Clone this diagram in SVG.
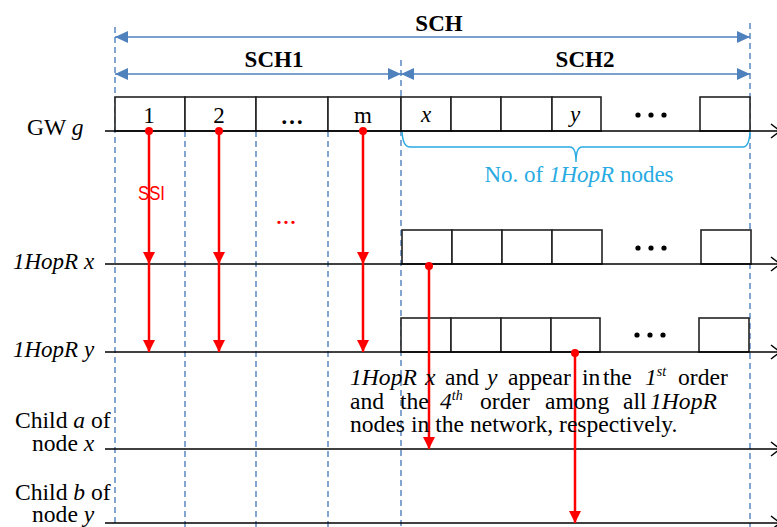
<svg xmlns="http://www.w3.org/2000/svg" width="777" height="527" viewBox="0 0 777 527">
  <style>
    .t { font-family: "Liberation Serif", "Times New Roman", serif; font-size: 23px; fill: #000; }
    .n { font-size: 23.6px; }
    .b { font-weight: bold; }
    .i { font-style: italic; }
    .grid { stroke: #4f81bd; stroke-width: 1.4; stroke-dasharray: 6 4; fill: none; }
    .span { stroke: #4f81bd; stroke-width: 1.6; fill: none; marker-start: url(#blueHead); marker-end: url(#blueHead); }
    .slot { fill: #fff; stroke: #222; stroke-width: 1.6; }
    .axis { stroke: #000; stroke-width: 1.6; fill: none; marker-end: url(#openHead); }
    .sig { stroke: #ff0000; stroke-width: 2.5; fill: none; marker-end: url(#redHead); }
    .dot { fill: #ff0000; }
    .ell { fill: #000; }
    .cyan { fill: #29abe2; }
  </style>
  <defs>
    <marker id="blueHead" markerUnits="userSpaceOnUse" markerWidth="14" markerHeight="12" refX="13" refY="6" orient="auto-start-reverse">
      <path d="M0,0 L13,6 L0,12 Z" fill="#4f81bd"/>
    </marker>
    <marker id="redHead" markerUnits="userSpaceOnUse" markerWidth="13" markerHeight="12" refX="12" refY="6" orient="auto">
      <path d="M0,0 L12,6 L0,12 Z" fill="#ff0000"/>
    </marker>
    <marker id="openHead" markerUnits="userSpaceOnUse" markerWidth="12" markerHeight="18" refX="10" refY="9" orient="auto">
      <path d="M1,2 L10,9 L1,16" fill="none" stroke="#000" stroke-width="1.5"/>
    </marker>
  </defs>

  <!-- slot boundaries -->
  <g id="grid">
    <line class="grid" x1="115" y1="27" x2="115" y2="527"/>
    <line class="grid" x1="185" y1="131" x2="185" y2="527"/>
    <line class="grid" x1="256" y1="131" x2="256" y2="527"/>
    <line class="grid" x1="328" y1="131" x2="328" y2="527"/>
    <line class="grid" x1="401" y1="60" x2="401" y2="527"/>
    <line class="grid" x1="750" y1="23" x2="750" y2="527"/>
  </g>

  <!-- channel spans -->
  <g id="spans">
    <line class="span" x1="115" y1="37" x2="750" y2="37"/>
    <text class="t b" x="439" y="31" text-anchor="middle">SCH</text>
    <line class="span" x1="115" y1="74" x2="401" y2="74"/>
    <text class="t b" x="274" y="67" text-anchor="middle">SCH1</text>
    <line class="span" x1="401" y1="74" x2="750" y2="74"/>
    <text class="t b" x="585" y="67" text-anchor="middle">SCH2</text>
  </g>

  <!-- gateway timeline -->
  <g id="gw">
    <rect class="slot" x="115" y="97" width="70" height="34"/>
    <rect class="slot" x="185" y="97" width="71" height="34"/>
    <rect class="slot" x="256" y="97" width="72" height="34"/>
    <rect class="slot" x="328" y="97" width="73" height="34"/>
    <rect class="slot" x="401" y="97" width="50" height="34"/>
    <rect class="slot" x="451" y="97" width="50" height="34"/>
    <rect class="slot" x="501" y="97" width="51" height="34"/>
    <rect class="slot" x="552" y="97" width="49" height="34"/>
    <rect class="slot" x="700" y="97" width="50" height="34"/>
    <text class="t" x="149" y="123" text-anchor="middle">1</text>
    <text class="t" x="219" y="123" text-anchor="middle">2</text>
    <text class="t b" x="292" y="124" text-anchor="middle" font-size="21">…</text>
    <text class="t" x="363" y="123" text-anchor="middle">m</text>
    <text class="t i" x="426" y="122" text-anchor="middle">x</text>
    <text class="t i" x="575" y="122" text-anchor="middle">y</text>
    <circle class="ell" cx="638" cy="115" r="2.6"/>
    <circle class="ell" cx="651" cy="115" r="2.6"/>
    <circle class="ell" cx="664" cy="115" r="2.6"/>
    <line class="axis" x1="105" y1="131" x2="780" y2="131"/>
    <text class="t n" x="27" y="135">GW <tspan class="i">g</tspan></text>
  </g>

  <!-- 1HopR count brace -->
  <g id="brace">
    <path d="M402,132 Q403,147 410,147 H570 Q576,147 576,162 Q576,147 582,147 H743 Q749,147 750,132" fill="none" stroke="#29abe2" stroke-width="1.5"/>
    <text class="t cyan" x="579" y="182" text-anchor="middle" font-size="23.8">No. of <tspan class="i">1HopR</tspan> nodes</text>
  </g>

  <!-- 1HopR x timeline -->
  <g id="hop-x">
    <rect class="slot" x="402" y="230" width="50" height="34"/>
    <rect class="slot" x="452" y="230" width="50" height="34"/>
    <rect class="slot" x="502" y="230" width="50" height="34"/>
    <rect class="slot" x="552" y="230" width="50" height="34"/>
    <rect class="slot" x="701" y="230" width="50" height="34"/>
    <circle class="ell" cx="638" cy="248" r="2.6"/>
    <circle class="ell" cx="651" cy="248" r="2.6"/>
    <circle class="ell" cx="664" cy="248" r="2.6"/>
    <line class="axis" x1="105" y1="264" x2="780" y2="264"/>
    <text class="t i" x="13" y="269">1HopR x</text>
  </g>

  <!-- 1HopR y timeline -->
  <g id="hop-y">
    <rect class="slot" x="401" y="318" width="50" height="34"/>
    <rect class="slot" x="451" y="318" width="50" height="34"/>
    <rect class="slot" x="501" y="318" width="50" height="34"/>
    <rect class="slot" x="551" y="318" width="49" height="34"/>
    <rect class="slot" x="699" y="318" width="50" height="34"/>
    <circle class="ell" cx="637" cy="335" r="2.6"/>
    <circle class="ell" cx="650" cy="335" r="2.6"/>
    <circle class="ell" cx="663" cy="335" r="2.6"/>
    <line class="axis" x1="105" y1="352" x2="780" y2="352"/>
    <text class="t i" x="13" y="357">1HopR y</text>
  </g>

  <!-- child timelines -->
  <g id="child-a">
    <line class="axis" x1="105" y1="449" x2="780" y2="449"/>
    <text class="t n" x="15" y="428">Child <tspan class="i">a</tspan> of</text>
    <text class="t n" x="32" y="451">node <tspan class="i">x</tspan></text>
  </g>
  <g id="child-b">
    <line class="axis" x1="105" y1="523" x2="780" y2="523"/>
    <text class="t n" x="15" y="500">Child <tspan class="i">b</tspan> of</text>
    <text class="t n" x="32" y="522">node <tspan class="i">y</tspan></text>
  </g>

  <!-- SSI transmissions -->
  <g id="connectors">
    <circle class="dot" cx="149" cy="131" r="4"/>
    <line class="sig" x1="149" y1="131" x2="149" y2="264"/>
    <line class="sig" x1="149" y1="264" x2="149" y2="352"/>
    <circle class="dot" cx="219" cy="131" r="4"/>
    <line class="sig" x1="219" y1="131" x2="219" y2="264"/>
    <line class="sig" x1="219" y1="264" x2="219" y2="352"/>
    <circle class="dot" cx="363" cy="131" r="4"/>
    <line class="sig" x1="363" y1="131" x2="363" y2="264"/>
    <line class="sig" x1="363" y1="264" x2="363" y2="352"/>
    <circle class="dot" cx="429" cy="266" r="4"/>
    <line class="sig" x1="429" y1="266" x2="429" y2="449"/>
    <circle class="dot" cx="575" cy="353" r="4"/>
    <line class="sig" x1="575" y1="353" x2="575" y2="523"/>
    <text x="138" y="200" font-family="Liberation Sans, Arial, sans-serif" font-size="21" fill="#ff0000" textLength="27" lengthAdjust="spacingAndGlyphs">SSI</text>
    <text x="286" y="224" font-family="Liberation Serif, serif" font-size="28" fill="#ff0000" text-anchor="middle">...</text>
  </g>

  <!-- note -->
  <g id="note" class="t n">
    <text y="385"><tspan x="350" class="i">1HopR</tspan><tspan x="425" class="i">x</tspan><tspan x="445">and</tspan><tspan x="487" class="i">y</tspan><tspan x="508">appear</tspan><tspan x="582">in</tspan><tspan x="603">the</tspan><tspan x="645" class="i">1</tspan><tspan class="i" font-size="14" dy="-9">st</tspan><tspan x="678" dy="9">order</tspan></text>
    <text y="409"><tspan x="350">and</tspan><tspan x="400">the</tspan><tspan x="440" class="i">4</tspan><tspan class="i" font-size="14" dy="-9">th</tspan><tspan x="480" dy="9">order</tspan><tspan x="545">among</tspan><tspan x="623">all</tspan><tspan x="650" class="i">1HopR</tspan></text>
    <text x="350" y="432">nodes in the network, respectively.</text>
  </g>
</svg>
